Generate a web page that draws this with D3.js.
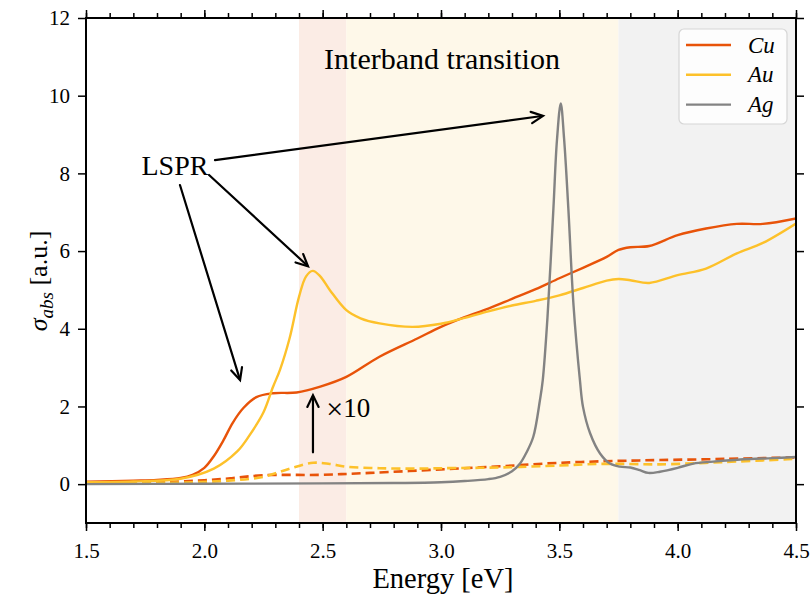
<!DOCTYPE html>
<html>
<head>
<meta charset="utf-8">
<script src="https://cdn.jsdelivr.net/npm/d3@7"></script>
<style>
  html, body { margin: 0; padding: 0; background: #fff; }
  svg { display: block; }
  svg text { font-family: "Liberation Serif", "DejaVu Serif", serif !important; fill: #000; }
</style>
</head>
<body>
<svg id="chart" width="811" height="598"></svg>
<script>
// ---------------- data ----------------
const energyCu = [1.5,1.7,1.8,1.9,1.95,2.0,2.04,2.08,2.12,2.165,2.22,2.29,2.39,2.49,2.6,2.74,2.9,3.0,3.1,3.2,3.3,3.4,3.5,3.6,3.7,3.75,3.8,3.88,4.0,4.12,4.25,4.36,4.5];
const cuSolid  = [0.06,0.09,0.11,0.16,0.24,0.42,0.72,1.12,1.58,1.96,2.24,2.34,2.36,2.51,2.76,3.28,3.75,4.05,4.3,4.52,4.77,5.02,5.3,5.57,5.85,6.03,6.1,6.13,6.41,6.58,6.70,6.70,6.84];

const energyAu = [1.5,1.7,1.9,2.04,2.14,2.19,2.25,2.29,2.32,2.36,2.40,2.43,2.458,2.49,2.53,2.60,2.66,2.74,2.88,3.0,3.1,3.2,3.3,3.4,3.5,3.6,3.7,3.75,3.8,3.88,4.0,4.12,4.25,4.36,4.5];
const auSolid  = [0.05,0.07,0.14,0.40,0.85,1.25,1.85,2.5,2.95,3.75,4.82,5.35,5.49,5.35,5.0,4.48,4.27,4.14,4.05,4.13,4.28,4.45,4.6,4.72,4.86,5.05,5.24,5.28,5.25,5.18,5.38,5.55,5.94,6.21,6.71];

const energyAg = [1.5,2.0,2.5,2.8,3.0,3.1,3.2,3.25,3.3,3.334,3.36,3.39,3.418,3.43,3.45,3.475,3.49,3.506,3.52,3.538,3.56,3.587,3.60,3.63,3.672,3.714,3.756,3.80,3.84,3.876,3.925,4.0,4.066,4.15,4.277,4.4,4.5];
const agSolid  = [0.0,0.01,0.02,0.03,0.05,0.08,0.13,0.19,0.33,0.53,0.8,1.22,2.16,2.68,4.3,7.1,8.86,9.80,8.9,7.1,4.6,2.68,1.99,1.31,0.79,0.53,0.45,0.43,0.36,0.29,0.32,0.42,0.53,0.58,0.64,0.67,0.70];

const energyCuD = [1.5,1.8,1.9,2.0,2.11,2.25,2.49,2.7,3.0,3.25,3.5,3.756,3.925,4.2,4.5];
const cuDashed  = [0.03,0.05,0.07,0.10,0.15,0.23,0.24,0.29,0.38,0.46,0.55,0.60,0.62,0.65,0.69];

const energyAuD = [1.5,1.9,2.1,2.25,2.36,2.46,2.53,2.6,2.74,2.9,3.0,3.25,3.5,3.67,3.8,3.925,4.2,4.5];
const auDashed  = [0.02,0.04,0.09,0.19,0.40,0.55,0.52,0.45,0.41,0.40,0.41,0.43,0.48,0.52,0.52,0.51,0.57,0.65];

const seriesNames = ["Cu", "Au", "Ag"];
const bandNames = ["LSPR", "Interband", "Other"];
const bandStart = [2.4, 2.6, 3.75];
const bandEnd   = [2.6, 3.75, 4.5];

const xTicks = [1.5, 2.0, 2.5, 3.0, 3.5, 4.0, 4.5];
const yTicks = [0, 2, 4, 6, 8, 10, 12];
const xDomain = [1.5, 4.5];
const yDomain = [-1, 12];

// annotation anchors (data units)
const lsprLabel = [1.876, 8.21];
const lsprArrows = [
  {from: [2.045, 8.34], to: [3.431, 9.48]},
  {from: [2.02, 7.96],  to: [2.438, 5.61]},
  {from: [1.897, 7.70], to: [2.151, 2.68]}
];
const x10Arrow = {from: [2.459, 0.82], to: [2.459, 2.29]};
const x10Label = [2.515, 1.96];
const interbandLabel = [3.0, 10.97];

// ---------------- styling ----------------
const colors = {Cu: "#e85309", Au: "#fdc12a", Ag: "#838383"};
const bandColors = ["#fbece5", "#fef8e9", "#f2f2f2"];
const serif = "'Liberation Serif', 'DejaVu Serif', serif";

const W = 811, H = 598;
const m = {left: 86, right: 15, top: 18, bottom: 75};
const svg = d3.select("#chart");

const x = d3.scaleLinear().domain(xDomain).range([m.left, W - m.right]);
const y = d3.scaleLinear().domain(yDomain).range([H - m.bottom, m.top]);

svg.append("defs").append("clipPath").attr("id", "clip")
  .append("rect").attr("x", x(xDomain[0])).attr("y", y(yDomain[1]))
  .attr("width", x(xDomain[1]) - x(xDomain[0])).attr("height", y(yDomain[0]) - y(yDomain[1]));

const plot = svg.append("g").attr("clip-path", "url(#clip)");

// bands
plot.selectAll("rect.band").data(bandNames).enter().append("rect")
  .attr("class", "band")
  .attr("x", (d, i) => x(bandStart[i]))
  .attr("width", (d, i) => x(bandEnd[i]) - x(bandStart[i]))
  .attr("y", y(yDomain[1]))
  .attr("height", y(yDomain[0]) - y(yDomain[1]))
  .attr("fill", (d, i) => bandColors[i]);

const line = d3.line().x(d => x(d[0])).y(d => y(d[1])).curve(d3.curveCatmullRom.alpha(0.5));
const zip = (a, b) => a.map((v, i) => [v, b[i]]);

// dashed (actual) curves
plot.append("path").datum(zip(energyCuD, cuDashed))
  .attr("d", line).attr("fill", "none").attr("stroke", colors.Cu)
  .attr("stroke-width", 2.6).attr("stroke-dasharray", "9,5");
plot.append("path").datum(zip(energyAuD, auDashed))
  .attr("d", line).attr("fill", "none").attr("stroke", colors.Au)
  .attr("stroke-width", 2.6).attr("stroke-dasharray", "9,5");

// solid curves
const solid = [
  {name: "Cu", e: energyCu, v: cuSolid},
  {name: "Au", e: energyAu, v: auSolid},
  {name: "Ag", e: energyAg, v: agSolid}
];
plot.selectAll("path.solid").data(solid).enter().append("path")
  .attr("class", "solid")
  .attr("d", d => line(zip(d.e, d.v)))
  .attr("fill", "none")
  .attr("stroke", d => colors[d.name])
  .attr("stroke-width", 2.4)
  .attr("stroke-linejoin", "round");

// ---------------- axes ----------------
const xMinor = d3.range(15, 46).map(v => v / 10);
const fmt = d3.format(".1f");

const gBottom = svg.append("g").attr("transform", `translate(0,${y(yDomain[0])})`);
gBottom.call(d3.axisBottom(x).tickValues(xMinor).tickSize(5).tickFormat(""));
gBottom.call(g => g.select(".domain").remove());
const gBottomMaj = svg.append("g").attr("transform", `translate(0,${y(yDomain[0])})`)
  .call(d3.axisBottom(x).tickValues(xTicks).tickSize(8).tickPadding(12).tickFormat(fmt));
gBottomMaj.select(".domain").remove();
gBottomMaj.attr("font-family", serif).attr("font-size", 21);
gBottomMaj.selectAll("text").style("font-size", "21px").style("font-family", serif);

const gTop = svg.append("g").attr("transform", `translate(0,${y(yDomain[1])})`);
gTop.call(d3.axisTop(x).tickValues(xMinor).tickSize(5).tickFormat(""));
gTop.select(".domain").remove();
const gTopMaj = svg.append("g").attr("transform", `translate(0,${y(yDomain[1])})`)
  .call(d3.axisTop(x).tickValues(xTicks).tickSize(8).tickFormat(""));
gTopMaj.select(".domain").remove();

const gLeft = svg.append("g").attr("transform", `translate(${x(xDomain[0])},0)`)
  .call(d3.axisLeft(y).tickValues(yTicks).tickSize(8).tickPadding(8).tickFormat(d3.format("d")));
gLeft.select(".domain").remove();
gLeft.attr("font-family", serif).attr("font-size", 21);
gLeft.selectAll("text").style("font-size", "21px").style("font-family", serif);

const gRight = svg.append("g").attr("transform", `translate(${x(xDomain[1])},0)`)
  .call(d3.axisRight(y).tickValues(yTicks).tickSize(8).tickFormat(""));
gRight.select(".domain").remove();

svg.selectAll(".tick line").attr("stroke", "#000").attr("stroke-width", 1.5);

// frame
svg.append("rect")
  .attr("x", x(xDomain[0])).attr("y", y(yDomain[1]))
  .attr("width", x(xDomain[1]) - x(xDomain[0]))
  .attr("height", y(yDomain[0]) - y(yDomain[1]))
  .attr("fill", "none").attr("stroke", "#000").attr("stroke-width", 2);

// axis labels
svg.append("text")
  .attr("x", (x(xDomain[0]) + x(xDomain[1])) / 2 + 2).attr("y", 588)
  .attr("text-anchor", "middle").style("font-size", "28.5px")
  .text("Energy [eV]");

const yl = svg.append("text")
  .attr("transform", `translate(47,281) rotate(-90)`)
  .attr("text-anchor", "middle").style("font-size", "26px");
yl.append("tspan").attr("font-style", "italic").text("σ");
yl.append("tspan").attr("font-style", "italic").style("font-size", "19px").attr("dy", 6).text("abs");
yl.append("tspan").attr("dy", -6).text(" [a.u.]");

// ---------------- annotations ----------------
svg.append("text")
  .attr("x", x(interbandLabel[0]) + 1).attr("y", y(interbandLabel[1]))
  .attr("text-anchor", "middle").attr("dominant-baseline", "central")
  .style("font-size", "30px").text("Interband transition");

svg.append("text")
  .attr("x", x(lsprLabel[0])).attr("y", y(lsprLabel[1]))
  .attr("text-anchor", "middle").attr("dominant-baseline", "central")
  .style("font-size", "28px").text("LSPR");

function arrow(a) {
  const x1 = x(a.from[0]), y1 = y(a.from[1]), x2 = x(a.to[0]), y2 = y(a.to[1]);
  const ang = Math.atan2(y2 - y1, x2 - x1);
  const L = 13, half = Math.PI / 7;
  const g = svg.append("g").attr("stroke", "#000").attr("stroke-width", 2.2)
    .attr("fill", "none").attr("stroke-linecap", "round").attr("stroke-linejoin", "miter");
  g.append("line").attr("x1", x1).attr("y1", y1).attr("x2", x2 - Math.cos(ang) * 1).attr("y2", y2 - Math.sin(ang) * 1);
  g.append("path").attr("d",
    `M${x2 - L * Math.cos(ang - half)},${y2 - L * Math.sin(ang - half)} L${x2},${y2} L${x2 - L * Math.cos(ang + half)},${y2 - L * Math.sin(ang + half)}`);
}
lsprArrows.forEach(arrow);
arrow(x10Arrow);

const xl = svg.append("text")
  .attr("x", x(x10Label[0])).attr("y", y(x10Label[1]))
  .attr("dominant-baseline", "central")
  .style("font-size", "27px");
xl.append("tspan").style("font-size", "30px").text("×");
xl.append("tspan").text("10");

// ---------------- legend ----------------
const lg = svg.append("g");
lg.append("rect").attr("x", 679).attr("y", 29).attr("width", 108).attr("height", 95)
  .attr("rx", 5).attr("fill", "#ffffff").attr("fill-opacity", 0.8)
  .attr("stroke", "#d6d6d6").attr("stroke-width", 1.2);
const items = lg.selectAll("g.item").data(seriesNames).enter().append("g")
  .attr("class", "item").attr("transform", (d, i) => `translate(686,${45 + i * 29.8})`);
items.append("line").attr("x1", 0).attr("x2", 45).attr("y1", 0).attr("y2", 0)
  .attr("stroke", d => colors[d]).attr("stroke-width", 2.4);
items.append("text").attr("x", 62).attr("y", 0).attr("dominant-baseline", "central")
  .attr("font-style", "italic").style("font-size", "23px").text(d => d);
</script>
</body>
</html>
